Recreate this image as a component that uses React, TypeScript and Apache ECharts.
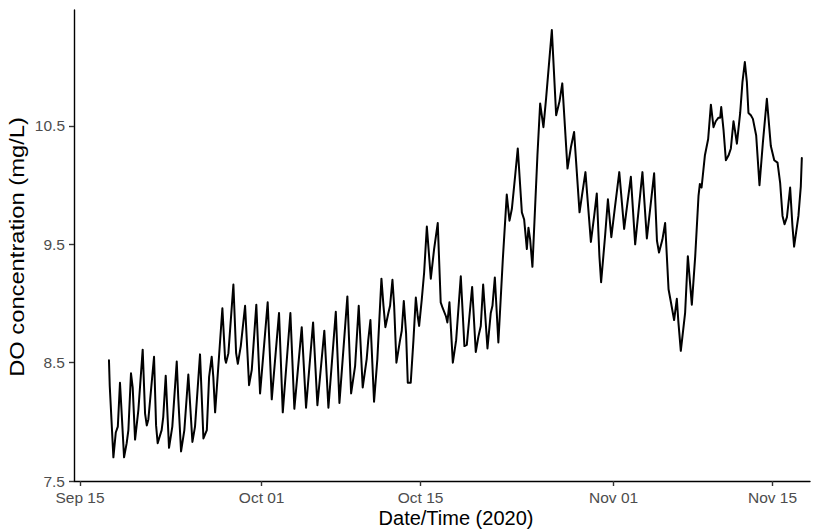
import React, { useEffect, useRef } from "react";
import * as echarts from "echarts";

// Days elapsed since 2020-09-15 00:00 for each reading
const dayOffset = [
  2.55, 2.62, 2.94, 3.15, 3.33, 3.52, 3.67, 3.88, 4.11, 4.26, 4.49, 4.64, 4.85, 5.14, 5.52, 5.73, 5.88, 6.02,
  6.52, 6.7, 6.84, 7.19, 7.33, 7.55, 7.84, 8.13, 8.52, 8.66, 8.9, 9.19, 9.54, 9.9, 10.13, 10.57, 10.87, 11.17,
  11.37, 11.6, 11.74, 11.9,
  12.54, 12.78, 12.86, 13.07, 13.51, 13.75, 13.9, 14.16, 14.54, 14.89, 15.13, 15.53, 15.86, 16.53, 16.89,
  17.53, 17.86, 18.53, 18.88, 19.53, 19.91, 20.53, 20.91, 21.52, 21.88,
  22.53, 22.85, 23.55, 23.88, 24.23, 24.55, 24.9, 25.25, 25.39, 25.58, 25.9, 26.19, 26.55, 26.73, 26.9,
  27.16, 27.31, 27.52, 27.67, 27.87, 28.19, 28.34, 28.52, 28.72, 28.87, 29.13, 29.37, 29.58, 29.75, 29.87,
  30.1, 30.31, 30.55, 30.9, 31.19, 31.51,
  31.77, 31.95, 32.24, 32.36, 32.54, 32.84, 33.13, 33.54, 33.86, 34.07, 34.3, 34.54, 34.86, 35.09, 35.3,
  35.51, 35.89, 36.18, 36.33, 36.54, 36.85, 37.24, 37.59, 37.83, 38.04, 38.33, 38.56, 38.92, 39.12, 39.36,
  39.5, 39.65, 39.85, 40.29, 40.53, 40.82, 41.06, 41.56, 41.94, 42.24, 42.48, 42.94, 43.24, 43.52, 44.0,
  44.21, 44.52, 45.0, 45.29, 45.52, 45.75, 45.9, 46.25, 46.5, 46.8, 47.1, 47.5, 47.93, 48.22, 48.52, 48.9,
  49.54, 49.93, 50.57, 50.82, 51.0, 51.3, 51.54, 51.84, 52.05, 52.33, 52.57, 52.71, 52.92, 53.3, 53.54,
  53.89, 54.19, 54.48, 54.6, 54.75, 55.04, 55.33, 55.57, 55.8, 56.0, 56.24, 56.39, 56.48, 56.68, 56.89,
  57.12, 57.33, 57.56, 57.71, 57.86, 58.15, 58.35, 58.56, 58.74, 58.88, 59.09, 59.27, 59.56, 59.85, 60.15,
  60.5, 60.85, 61.15, 61.44, 61.67, 61.88, 62.06, 62.27, 62.55, 62.75, 62.9, 63.28, 63.49, 63.58,
];

// Dissolved oxygen (mg/L)
const doValues = [
  8.52, 8.3, 7.7, 7.91, 7.96, 8.33, 8.07, 7.7, 7.82, 7.93, 8.41, 8.29, 7.85, 8.1, 8.61, 8.07, 7.97, 8.02,
  8.55, 7.97, 7.82, 7.93, 8.04, 8.39, 7.78, 7.96, 8.51, 8.19, 7.75, 7.93, 8.4, 7.83, 7.96, 8.57, 7.86, 7.93,
  8.38, 8.55, 8.38, 8.08,
  8.96, 8.53, 8.5, 8.58, 9.16, 8.58, 8.49, 8.64, 8.98, 8.31, 8.44, 8.99, 8.24, 9.01, 8.19,
  8.92, 8.08, 8.92, 8.11, 8.8, 8.12, 8.84, 8.14, 8.77, 8.12,
  8.93, 8.16, 9.06, 8.24, 8.47, 8.98, 8.29, 8.53, 8.69, 8.86, 8.17, 8.53, 9.21, 8.98, 8.8,
  8.92, 8.98, 9.2, 8.98, 8.5, 8.69, 8.77, 9.02, 8.75, 8.33, 8.33, 8.69, 9.05, 8.89, 8.81,
  9.03, 9.26, 9.65, 9.21, 9.46, 9.68,
  9.01, 8.96, 8.89, 8.84, 9.01, 8.5, 8.69, 9.23, 8.64, 8.65, 8.89, 9.14, 8.59, 8.72, 8.81,
  9.16, 8.62, 8.92, 8.98, 9.22, 8.67, 9.37, 9.92, 9.7, 9.8, 10.08, 10.31, 9.77, 9.71, 9.46,
  9.64, 9.54, 9.31, 10.25, 10.69, 10.49, 10.74, 11.31, 10.59, 10.71, 10.86, 10.14, 10.32, 10.45, 9.77,
  9.91, 10.11, 9.52, 9.74, 9.93, 9.4, 9.18, 9.57, 9.88, 9.56, 9.8, 10.11, 9.63, 9.85, 10.07, 9.5,
  10.11, 9.55, 10.1, 9.53, 9.43, 9.54, 9.68, 9.12, 9.01, 8.86, 9.04, 8.84, 8.6, 8.92, 9.4,
  8.99, 9.4, 9.91, 10.01, 9.98, 10.25, 10.39, 10.68, 10.49, 10.54, 10.57, 10.57, 10.66, 10.47, 10.21,
  10.25, 10.31, 10.54, 10.45, 10.35, 10.61, 10.87, 11.04, 10.87, 10.61, 10.59, 10.56, 10.42, 10.0, 10.36,
  10.73, 10.33, 10.21, 10.19, 10.02, 9.74, 9.67, 9.73, 9.98, 9.66, 9.48, 9.74, 9.99, 10.23,
];

// Tick positions (days since Sep 15) and their labels
const xTickDays = [0, 16, 30, 47, 61];
const xTickLabels = ["Sep 15", "Oct 01", "Oct 15", "Nov 01", "Nov 15"];
const yTicks = [7.5, 8.5, 9.5, 10.5];

const FONT = "'Liberation Sans', Arial, Helvetica, sans-serif";

export default function App() {
  const ref = useRef<HTMLDivElement>(null);

  useEffect(() => {
    document.body.style.margin = "0";
    if (!ref.current) return;
    const chart = echarts.init(ref.current, null, { renderer: "svg" });
    const data = dayOffset.map((d, i) => [d, doValues[i]]);

    chart.setOption({
      animation: false,
      backgroundColor: "#ffffff",
      grid: { left: 74, right: 15, top: 10, bottom: 48, containLabel: false },
      xAxis: {
        type: "value",
        min: -0.53,
        max: 64.3,
        axisLine: { show: true, onZero: false, lineStyle: { color: "#000", width: 1.4 } },
        axisTick: { show: true, length: 5, customValues: xTickDays, lineStyle: { color: "#333", width: 1.4 } },
        axisLabel: {
          customValues: xTickDays,
          margin: 8,
          color: "#4d4d4d",
          fontSize: 15.5,
          fontFamily: FONT,
          formatter: (v: number) => {
            const idx = xTickDays.findIndex((t) => Math.abs(t - v) < 1e-6);
            return idx >= 0 ? xTickLabels[idx] : "";
          },
        },
        splitLine: { show: false },
      },
      yAxis: {
        type: "value",
        min: 7.5,
        max: 11.48,
        axisLine: { show: true, onZero: false, lineStyle: { color: "#000", width: 1.4 } },
        axisTick: { show: true, length: 5, customValues: yTicks, lineStyle: { color: "#333", width: 1.4 } },
        axisLabel: {
          customValues: yTicks,
          margin: 9,
          color: "#4d4d4d",
          fontSize: 15.5,
          fontFamily: FONT,
          formatter: (v: number) => v.toFixed(1),
        },
        splitLine: { show: false },
      },
      series: [
        {
          type: "line",
          data,
          showSymbol: false,
          symbol: "none",
          lineStyle: { color: "#000", width: 2, join: "round", cap: "round" },
          silent: true,
        },
      ],
      graphic: [
        {
          type: "text",
          x: 456,
          y: 518,
          style: {
            text: "Date/Time (2020)",
            fontSize: 20,
            fontFamily: FONT,
            fill: "#000",
            align: "center",
            verticalAlign: "middle",
          },
        },
        {
          type: "text",
          x: 17,
          y: 247,
          rotation: Math.PI / 2,
          scaleX: 1.13,
          style: {
            text: "DO concentration (mg/L)",
            fontSize: 21,
            fontFamily: FONT,
            fill: "#000",
            align: "center",
            verticalAlign: "middle",
          },
        },
      ],
    });

    return () => {
      chart.dispose();
    };
  }, []);

  return <div ref={ref} style={{ width: 825, height: 529 }} />;
}
